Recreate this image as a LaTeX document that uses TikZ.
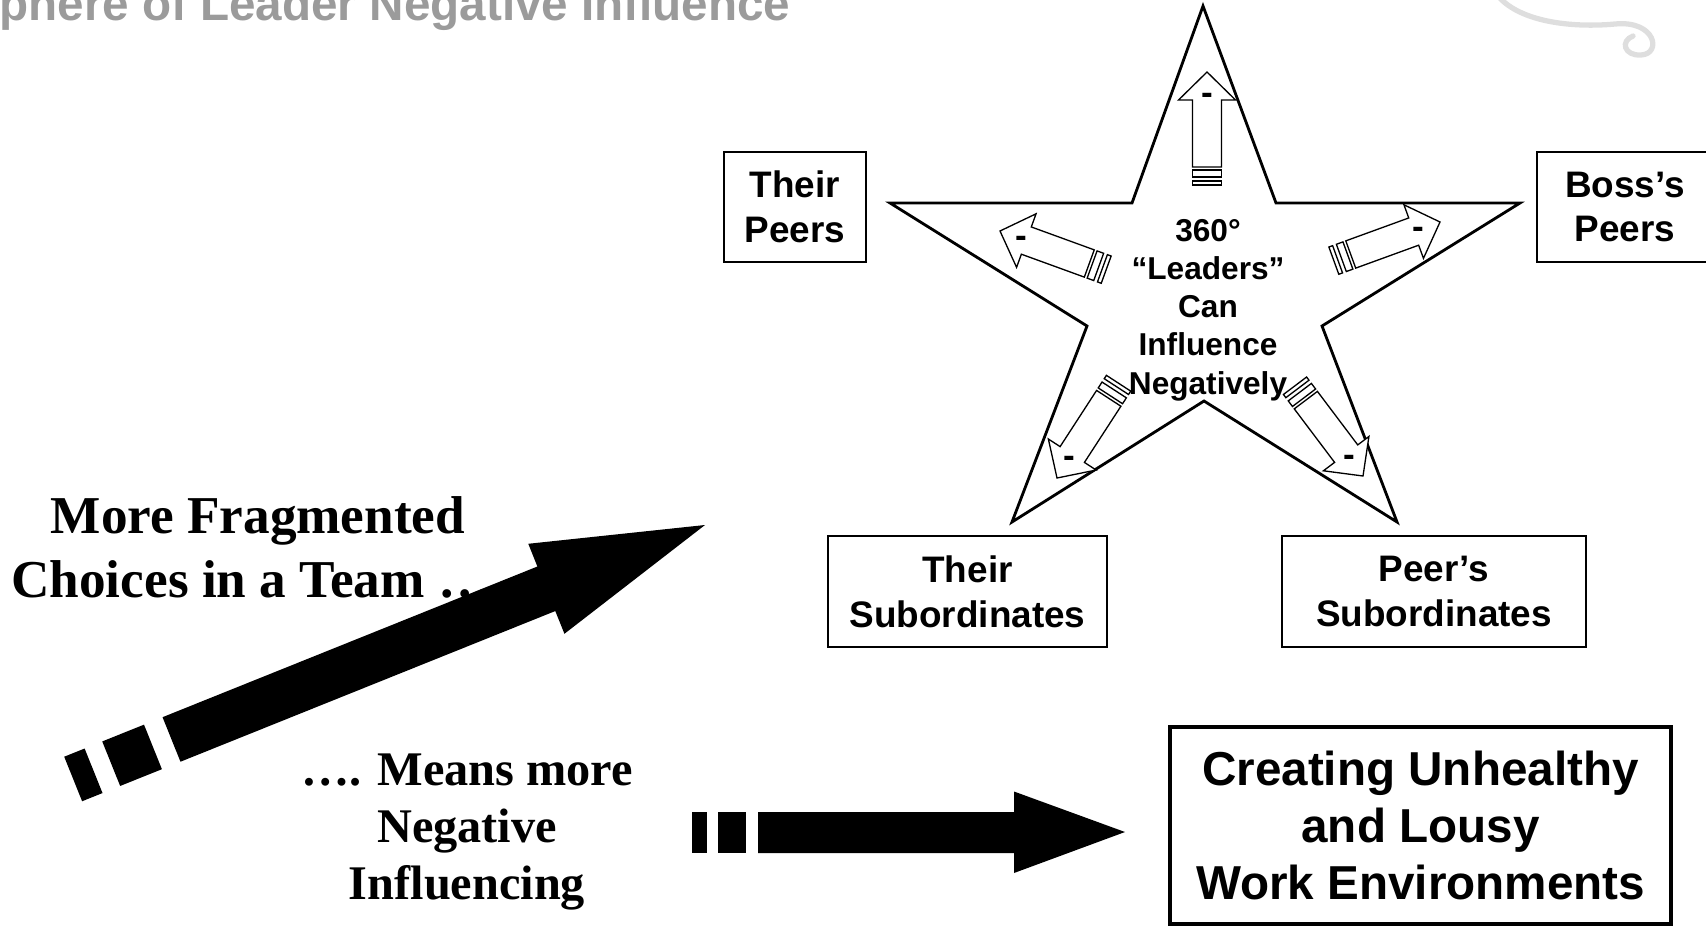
\documentclass[tikz,border=0pt]{standalone}
\usepackage{fontspec}
\setmainfont{Liberation Serif}
\newfontfamily\arialf{Liberation Sans}
\definecolor{titlegray}{HTML}{9B9B9B}
\definecolor{swirlgray}{HTML}{DEDEDE}

% hollow "negative influence" arrow: tip at #1, pointing at angle #2, minus sign node #3
\newcommand\negarrow[3]{%
  \begin{scope}[shift={#1}, rotate=#2]
    \draw[hollow] (0,0) -- (-28,28.5) -- (-28,14.5) -- (-95,14.5) -- (-95,-14.5)
      -- (-28,-14.5) -- (-28,-28.5) -- cycle;
    \draw[hollow] (-105,-14.5) rectangle (-98,14.5);
    \draw[hollow] (-113,-14.5) rectangle (-109,14.5);
    \node[minus] (#3) at (-23,0) {-};
  \end{scope}}

\begin{document}
\begin{tikzpicture}[x=0.02cm, y=-0.02cm,
  starline/.style={line width=1.6pt, line join=miter},
  hollow/.style={draw=black, fill=white, line width=0.75pt},
  minus/.style={inner sep=0pt, font=\arialf\bfseries\fontsize{20}{20}\selectfont, yshift=-2pt},
  labelbox/.style={draw=black, line width=0.9pt, inner sep=0pt, align=center,
    font=\arialf\bfseries\fontsize{21}{25.4}\selectfont},
  serifnote/.style={inner sep=0pt, align=center}
]
\useasboundingbox (0,0) rectangle (1706,926);
\clip (0,0) rectangle (1706,926);

% faint ornament in the corner
\draw[swirlgray, line width=3pt, line cap=round]
  (1498,-4) .. controls (1520,22) and (1572,28) .. (1615,24)
  .. controls (1656,20) and (1662,54) .. (1641,55)
  .. controls (1624,56) and (1620,41) .. (1633,36);

% heading
\node[anchor=base west, inner sep=0pt, text=titlegray,
  font=\arialf\bfseries\fontsize{27.1}{32}\selectfont] (title) at (-1,21)
  {phere of Leader Negative Influence};

% the star
\draw[starline] (1203,6) -- (1276,203) -- (1520,203) -- (1322,326) -- (1397,522)
  -- (1204,401) -- (1012,522) -- (1087,326) -- (890,203) -- (1132,203) -- cycle;

% arrows radiating from the centre
\negarrow{(1207,72)}{90}{mup}
\negarrow{(1000,231)}{160}{mul}
\negarrow{(1440,222)}{20}{mur}
\negarrow{(1057,478)}{237}{mll}
\negarrow{(1363,476)}{-53}{mlr}

\node[inner sep=0pt, align=center, font=\arialf\bfseries\fontsize{18}{21.8}\selectfont]
  (centre) at (1208,310) {360°\\“Leaders”\\Can\\Influence\\Negatively};

% surrounding groups
\node[labelbox, minimum width=2.84cm, minimum height=2.2cm] (tpeers) at (795,207) {Their\\Peers};
\node[labelbox, minimum width=3.52cm, minimum height=2.2cm] (bpeers) at (1625,207) {Boss’s\\Peers};
\node[labelbox, minimum width=5.58cm, minimum height=2.22cm] (tsubs) at (967.5,591.5) {Their\\Subordinates};
\node[labelbox, minimum width=6.08cm, minimum height=2.22cm] (psubs) at (1434,591.5) {Peer’s\\Subordinates};

% left-hand statements
\node[serifnote, font=\bfseries\fontsize{30.3}{36.4}\selectfont] (frag) at (258,547)
  {More Fragmented\\Choices in a Team ….};
\node[serifnote, font=\bfseries\fontsize{27.5}{32.4}\selectfont] (means) at (467,832)
  {…. Means more\\Negative\\Influencing};

% rising arrow
\begin{scope}[shift={(705,525)}, rotate=21.9]
  \fill (0,0) -- (-171,-48.5) -- (-171,-24) -- (-575,-24) -- (-575,24)
    -- (-171,24) -- (-171,48.5) -- cycle;
  \fill (-640,-24) rectangle (-595,24);
  \fill (-681,-24) rectangle (-659,24);
\end{scope}

% result box and arrow into it
\node[draw=black, line width=1.9pt, inner sep=0pt, align=center,
  minimum width=10.02cm, minimum height=3.94cm,
  font=\arialf\bfseries\fontsize{27.1}{32.4}\selectfont] (result) at (1420.5,825.5)
  {Creating Unhealthy\\and Lousy\\Work Environments};

\coordinate (rtip) at (1125,832);
\fill (rtip) -- (1014,791.5) -- (1014,812) -- (758,812) -- (758,853) -- (1014,853)
  -- (1014,873) -- cycle;
\fill (718,812) rectangle (746,853);
\fill (692,812) rectangle (707,853);
\end{tikzpicture}
\end{document}
